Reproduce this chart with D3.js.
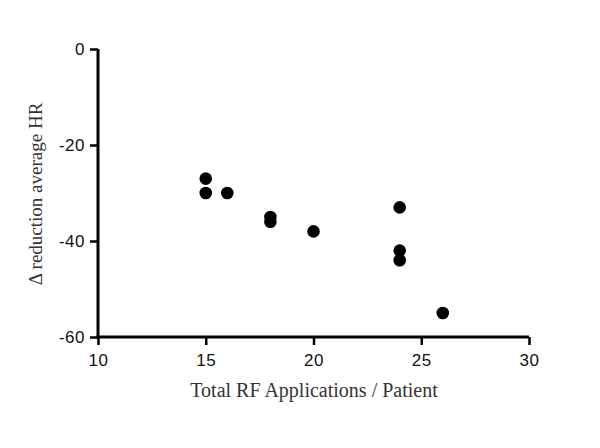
<!DOCTYPE html>
<html>
<head>
<meta charset="utf-8">
<script src="https://cdn.jsdelivr.net/npm/d3@7"></script>
<style>
  body { margin: 0; background: #fff; }
</style>
</head>
<body>
<svg width="600" height="448"></svg>
<script>
const applications = [15, 15, 16, 18, 18, 20, 24, 24, 24, 26];
const hrReduction = [-27, -30, -30, -35, -36, -38, -33, -42, -44, -55];
const xTicks = [10, 15, 20, 25, 30];
const yTicks = [0, -20, -40, -60];

var svg = d3.select('svg');

const x = d3.scaleLinear().domain([10, 30]).range([98, 529]);
const y = d3.scaleLinear().domain([0, -60]).range([49, 337]);

// plain hyphen for negatives, like the original
const fmt = d => String(d);

const xAxis = svg.append('g')
  .attr('transform', 'translate(0,337)')
  .call(d3.axisBottom(x).tickValues(xTicks).tickFormat(fmt).tickSize(8).tickPadding(9).tickSizeOuter(0));
const yAxis = svg.append('g')
  .attr('transform', 'translate(98,0)')
  .call(d3.axisLeft(y).tickValues(yTicks).tickFormat(fmt).tickSize(8).tickPadding(5).tickSizeOuter(0));

[xAxis, yAxis].forEach(g => {
  g.select('.domain').attr('stroke', '#000').attr('stroke-width', 3);
  g.selectAll('.tick line').attr('stroke', '#000').attr('stroke-width', 2.5);
  g.selectAll('.tick text')
    .attr('fill', '#111')
    .style('font-family', '"Liberation Sans", Arial, sans-serif')
    .style('font-size', '17px')
    .style('letter-spacing', '0.5px');
});
xAxis.select('.domain').attr('d', 'M' + (x(10) - 1.5) + ',0H' + x(30));
yAxis.select('.domain').attr('d', 'M0,' + y(0) + 'V' + (y(-60) + 1.5));

// points
svg.append('g').selectAll('circle')
  .data(applications.map((d, i) => [d, hrReduction[i]]))
  .enter().append('circle')
  .attr('cx', d => x(d[0]))
  .attr('cy', d => y(d[1]))
  .attr('r', 6.3)
  .attr('fill', '#000');

// titles
svg.append('text')
  .attr('x', 314).attr('y', 397)
  .attr('text-anchor', 'middle')
  .attr('fill', '#333')
  .style('font-family', '"Liberation Serif", "Times New Roman", serif')
  .style('font-size', '20px')
  .text('Total RF Applications / Patient');

svg.append('text')
  .attr('transform', 'translate(42,194) rotate(-90)')
  .attr('text-anchor', 'middle')
  .attr('fill', '#333')
  .style('font-family', '"Liberation Serif", "Times New Roman", serif')
  .style('font-size', '19px')
  .text('\u0394 reduction average HR');
</script>
</body>
</html>
